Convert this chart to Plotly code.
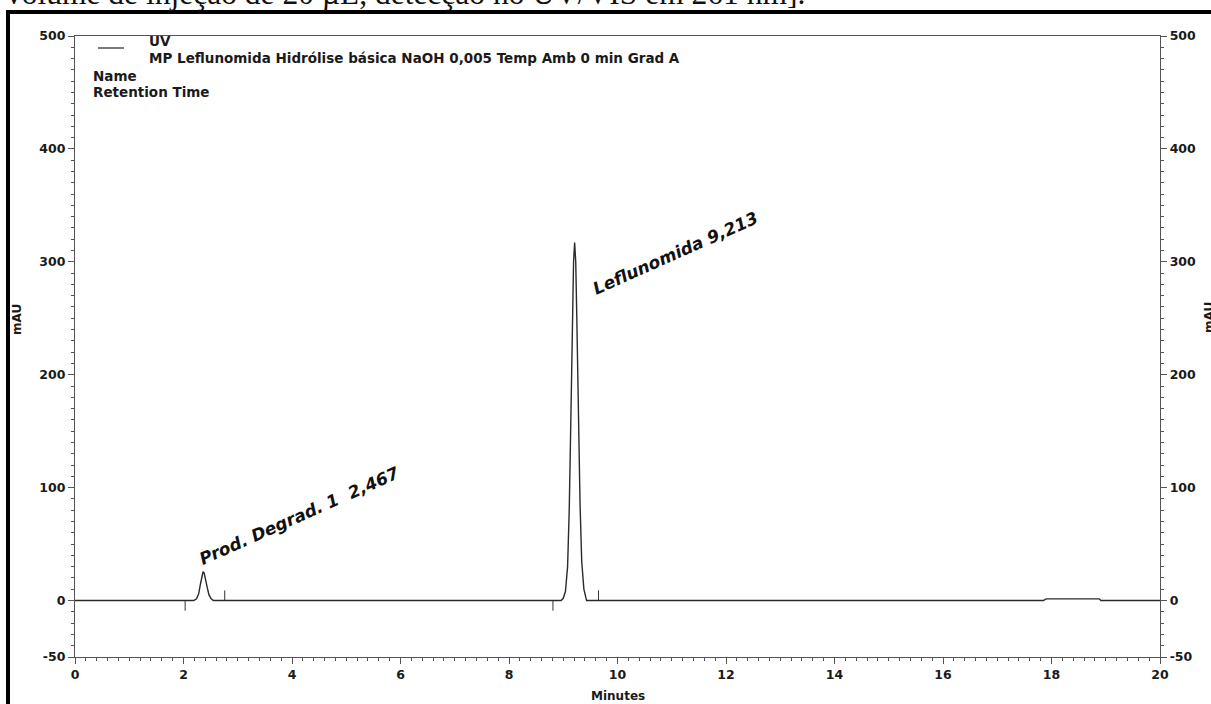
import plotly.graph_objects as go

# ---------------- data ----------------
time_min = [0.0, 2.19, 2.24, 2.28, 2.31, 2.34, 2.36, 2.38, 2.41, 2.44, 2.47, 2.51, 2.55,
            8.96, 9.00, 9.04, 9.08, 9.11, 9.14, 9.17, 9.19, 9.21, 9.23, 9.25, 9.28, 9.31,
            9.34, 9.38, 9.43, 17.85, 17.90, 18.88, 18.91, 20.0]
signal_mau = [0.0, 0.0, 1.5, 6.0, 14.0, 22.0, 25.5, 24.5, 19.0, 11.0, 5.0, 1.5, 0.0,
              0.0, 2.0, 8.0, 30.0, 80.0, 160.0, 250.0, 300.0, 317.0, 300.0, 250.0, 160.0, 85.0,
              35.0, 10.0, 0.0, 0.0, 1.5, 1.5, 0.0, 0.0]

# integration start / end markers (time, signed length in mAU)
marker_times = [2.03, 2.76, 8.81, 9.65]
marker_len = [-9.0, 9.0, -9.0, 9.0]

peak_labels = ["Prod. Degrad. 1  2,467", "Leflunomida 9,213"]
label_x = [4.12, 11.07]
label_y = [75.0, 308.0]

x_ticks = [0, 2, 4, 6, 8, 10, 12, 14, 16, 18, 20]
y_ticks = [-50, 0, 100, 200, 300, 400, 500]

legend_lines = ["UV", "MP Leflunomida Hidrólise básica NaOH 0,005 Temp Amb 0 min Grad A"]
info_lines = ["Name", "Retention Time"]
caption = "volume de injeção de 20 µL, detecção no UV/VIS em 261 nm]."

# ---------------- geometry helpers (layout only) ----------------
W, H = 1211, 704
L, R, T, B = 75, 1160, 36, 657


def px(xp):
    return (xp - L) / (R - L)


def py(yp):
    return (B - yp) / (B - T)


FONT = "DejaVu Sans, Verdana, sans-serif"
TXT = "#1a1a1a"

fig = go.Figure()

fig.add_trace(go.Scatter(x=time_min, y=signal_mau, mode="lines",
                         line=dict(color="#2a2a2a", width=1.4),
                         hoverinfo="skip", showlegend=False))

mx, my = [], []
for t, ln in zip(marker_times, marker_len):
    mx += [t, t, None]
    my += [0, ln, None]
fig.add_trace(go.Scatter(x=mx, y=my, mode="lines",
                         line=dict(color="#333333", width=1),
                         hoverinfo="skip", showlegend=False))

# invisible trace so the right axis is drawn
fig.add_trace(go.Scatter(x=[0, 20], y=[0, 0], yaxis="y2", mode="lines",
                         line=dict(width=0), opacity=0, hoverinfo="skip",
                         showlegend=False))

bold = lambda v: "<b>%s</b>" % v

axis_common = dict(
    showgrid=False, zeroline=False, showline=True, linecolor="#555555", linewidth=1.3,
    ticks="outside", ticklen=6, tickcolor="#555555", tickwidth=1.3,
    tickfont=dict(family=FONT, size=12.5, color=TXT),
)

fig.update_layout(
    width=W, height=H,
    margin=dict(l=L, r=W - R, t=T, b=H - B),
    paper_bgcolor="white", plot_bgcolor="white",
    font=dict(family=FONT, color=TXT),
    xaxis=dict(range=[0, 20], tickvals=x_ticks, ticktext=[bold(v) for v in x_ticks],
               mirror=True, minor=dict(dtick=0.2, ticks="outside", ticklen=3,
                                       tickcolor="#555555"),
               **axis_common),
    yaxis=dict(range=[-50, 500], tickvals=y_ticks, ticktext=[bold(v) for v in y_ticks],
               minor=dict(dtick=10, ticks="outside", ticklen=3, tickcolor="#555555"),
               **axis_common),
    yaxis2=dict(range=[-50, 500], overlaying="y", side="right", anchor="x",
                tickvals=y_ticks, ticktext=[bold(v) for v in y_ticks],
                minor=dict(dtick=10, ticks="outside", ticklen=3, tickcolor="#555555"),
                **axis_common),
)

ann = []
# axis titles
ann.append(dict(text="<b>Minutes</b>", xref="paper", yref="paper", x=0.5, y=py(696),
                xanchor="center", yanchor="middle", showarrow=False,
                font=dict(family=FONT, size=12, color=TXT)))
ann.append(dict(text="<b>mAU</b>", xref="paper", yref="paper", x=px(17), y=py(320),
                textangle=-90, xanchor="center", yanchor="middle", showarrow=False,
                font=dict(family=FONT, size=12, color=TXT)))
ann.append(dict(text="<b>mAU</b>", xref="paper", yref="paper", x=px(1209), y=py(318),
                textangle=-90, xanchor="center", yanchor="middle", showarrow=False,
                font=dict(family=FONT, size=12, color=TXT)))
# legend block
ann.append(dict(text=bold(legend_lines[0]), xref="paper", yref="paper", x=px(147), y=py(41),
                xanchor="left", yanchor="middle", showarrow=False,
                font=dict(family=FONT, size=13.5, color=TXT)))
ann.append(dict(text=bold(legend_lines[1]), xref="paper", yref="paper", x=px(147), y=py(58),
                xanchor="left", yanchor="middle", showarrow=False,
                font=dict(family=FONT, size=13.5, color=TXT)))
for i, s in enumerate(info_lines):
    ann.append(dict(text=bold(s), xref="paper", yref="paper", x=px(91), y=py(76 + 16 * i),
                    xanchor="left", yanchor="middle", showarrow=False,
                    font=dict(family=FONT, size=13.5, color=TXT)))
# peak labels
for s, x, y in zip(peak_labels, label_x, label_y):
    ann.append(dict(text="<b><i>%s</i></b>" % s, x=x, y=y, xref="x", yref="y",
                    textangle=-24, xanchor="center", yanchor="middle", showarrow=False,
                    font=dict(family=FONT, size=17, color="#111111")))
# cropped caption above the frame
ann.append(dict(text=caption, xref="paper", yref="paper", x=px(4), y=py(-6),
                xanchor="left", yanchor="middle", showarrow=False,
                font=dict(family="Liberation Serif, Times New Roman, serif", size=31.5,
                          color="#111111")))
fig.update_layout(annotations=ann)

shapes = [
    # legend line sample
    dict(type="line", xref="paper", yref="paper", x0=px(98), x1=px(124), y0=py(48), y1=py(48),
         line=dict(color="#333333", width=1.3)),
    # outer thick frame (partly outside the window)
    dict(type="rect", xref="paper", yref="paper", x0=px(8), x1=px(1225), y0=py(12), y1=py(720),
         line=dict(color="black", width=4), fillcolor="rgba(0,0,0,0)", layer="above"),
]
fig.update_layout(shapes=shapes)

fig.write_html("out.html")
